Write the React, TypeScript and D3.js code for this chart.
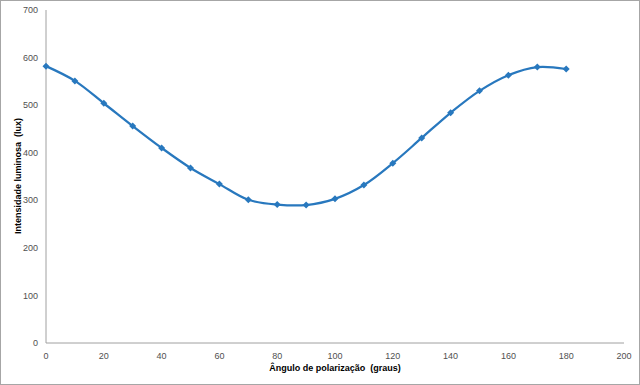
import React from "react";
import * as d3 from "d3";

const angles = [0, 10, 20, 30, 40, 50, 60, 70, 80, 90, 100, 110, 120, 130, 140, 150, 160, 170, 180];
const intensity = [582, 551, 504, 456, 410, 368, 334, 301, 291, 290, 303, 332, 378, 431, 484, 530, 563, 580, 576];
const xTicks = [0, 20, 40, 60, 80, 100, 120, 140, 160, 180, 200];
const yTicks = [0, 100, 200, 300, 400, 500, 600, 700];

const W = 640, H = 385;
const M = { left: 46, right: 16, top: 10, bottom: 42 };

export default function App() {
  const x = d3.scaleLinear().domain([0, 200]).range([M.left, W - M.right]);
  const y = d3.scaleLinear().domain([0, 700]).range([H - M.bottom, M.top]);
  const pts: [number, number][] = angles.map((a, i) => [x(a), y(intensity[i])]);
  const line = d3.line().curve(d3.curveCatmullRom.alpha(0.5))(pts) || "";
  const font = "'Liberation Sans', Arial, sans-serif";
  const blue = "#2878BE";
  return (
    <svg width={W} height={H} style={{ position: "absolute", left: 0, top: 0 }} fontFamily={font}>
      <rect x={0.5} y={0.5} width={W - 1} height={H - 1} fill="#fff" stroke="#A6A6A6" />
      <line x1={x(0)} x2={x(0)} y1={y(0)} y2={y(700)} stroke="#A0A0A0" strokeWidth={1} />
      <line x1={x(0)} x2={x(200)} y1={y(0)} y2={y(0)} stroke="#A0A0A0" strokeWidth={1} />
      {yTicks.map((t) => (
        <text key={t} x={38} y={y(t)} dy="0.35em" textAnchor="end" fontSize={9} fill="#505050">{t}</text>
      ))}
      {xTicks.map((t) => (
        <text key={t} x={x(t)} y={356} dy="0.35em" textAnchor="middle" fontSize={9} fill="#505050">{t}</text>
      ))}
      <text x={335} y={368} dy="0.35em" textAnchor="middle" fontSize={9} fontWeight="bold" fill="#000">
        {"Ângulo de polarização\u00A0 (graus)"}
      </text>
      <text transform={`translate(18,176) rotate(-90)`} dy="0.35em" textAnchor="middle" fontSize={9} fontWeight="bold" fill="#000">
        {"Intensidade luminosa\u00A0 (lux)"}
      </text>
      <path d={line} fill="none" stroke={blue} strokeWidth={2.25} />
      {pts.map(([px, py], i) => (
        <path key={i} d={`M${px},${py - 3.5}L${px + 3.5},${py}L${px},${py + 3.5}L${px - 3.5},${py}Z`} fill={blue} />
      ))}
    </svg>
  );
}
